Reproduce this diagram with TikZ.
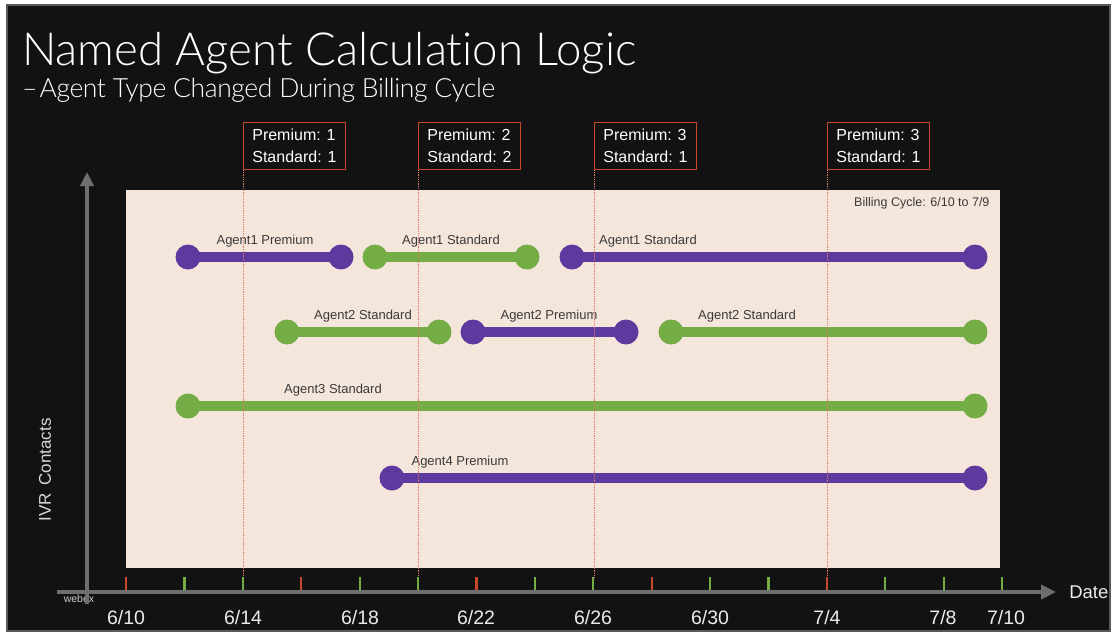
\documentclass[tikz,border=0pt]{standalone}
\usepackage{fontspec}
\setmainfont{Liberation Sans}
\IfFontExistsTF{Lato Light}{%
  \newfontfamily\titlefont[Ligatures=NoCommon]{Lato Light}%
  \newfontfamily\subtitlefont[Ligatures=NoCommon, LetterSpace=-1.5]{Lato Light}}{%
  \newfontfamily\titlefont{Lato}%
  \newfontfamily\subtitlefont[LetterSpace=-1.5]{Lato}}
\usetikzlibrary{arrows.meta,positioning}

\definecolor{slidebg}{HTML}{121212}
\definecolor{framegray}{HTML}{5A5A5A}
\definecolor{axisgray}{HTML}{6E6E6E}
\definecolor{chartbg}{HTML}{F5E6DC}
\definecolor{premium}{HTML}{5E3A9E}
\definecolor{standard}{HTML}{74AD46}
\definecolor{marker}{HTML}{C9482B}
\definecolor{labelgray}{HTML}{3A3A3A}

\tikzset{
  endpt/.style={circle, fill=#1, inner sep=0pt, minimum size=25pt},
  bar/.style={line width=9.5pt, draw=#1},
  agentlabel/.style={font=\fontsize{13}{15}\selectfont, text=labelgray, inner sep=1pt},
  countbox/.style={draw=marker, line width=0.9pt, text=white, align=left, anchor=north west,
    font=\fontsize{16}{22}\selectfont, inner xsep=8pt, inner ysep=4pt,
    minimum height=47pt, minimum width=102pt},
  markerline/.style={marker!85!red!70!white, line width=0.8pt, dash pattern=on 1pt off 0.8pt},
  daytick/.style={line width=2.2pt, #1},
  datelabel/.style={font=\fontsize{19.5}{22}\selectfont, text=white!92!black}
}

\begin{document}
\begin{tikzpicture}[x=1pt, y=-1pt]
    \useasboundingbox (0,0) rectangle (1113,635);
    % Slide background
    \fill[white] (0,0) rectangle (1113,635);
    \draw[framegray, line width=2pt, fill=slidebg] (7,5) rectangle (1110,631);

    % Title
    \node[anchor=base west, inner sep=0pt, text=white, font=\titlefont\fontsize{45.6}{50}\selectfont]
        (title) at (22,65) {Named Agent Calculation Logic};
    \node[anchor=base west, inner sep=0pt, text=white, font=\subtitlefont\fontsize{26.5}{30}\selectfont]
        (subtitle) at (22,97) {–\kern2pt Agent Type Changed During Billing Cycle};

    % Chart area
    \fill[chartbg] (126,190) rectangle (1000,568);
    \node[anchor=east, text=labelgray, font=\fontsize{12.5}{14}\selectfont] (cycle) at (993,203)
        {Billing Cycle: 6/10 to 7/9};
    \coordinate (chartfoot) at (0,578);

    % Count boxes
    \foreach \i/\bx/\np/\ns in {1/243/1/1, 2/418/2/2, 3/594/3/1, 4/827/3/1}
        \node[countbox] (box\i) at (\bx,122) {Premium: \np\\Standard: \ns};

    % Agent segments
    \foreach \n/\xa/\xb/\y/\c/\lx/\lab in {
        a1p/188/341/257/premium/265/{Agent1 Premium},
        a1s/375/527/257/standard/451/{Agent1 Standard},
        a1t/572/975/257/premium/648/{Agent1 Standard},
        a2s/287/439/332/standard/363/{Agent2 Standard},
        a2p/473/626/332/premium/549/{Agent2 Premium},
        a2t/671/975/332/standard/747/{Agent2 Standard},
        a3s/188/975/406/standard/333/{Agent3 Standard},
        a4p/392/975/478/premium/460/{Agent4 Premium}} {
        \node[endpt=\c] (\n-a) at (\xa,\y) {};
        \node[endpt=\c] (\n-b) at (\xb,\y) {};
        \draw[bar=\c] (\n-a.center) -- (\n-b.center);
        \node[agentlabel] (\n-lab) at (\lx,\y-16) {\lab};
    }

    % Change markers
    \foreach \i in {1,...,4}
        \draw[markerline] (box\i.south west) -- (box\i.south west |- chartfoot);

    % Watermark
    \node[text=white!80!black, font=\fontsize{10.5}{12}\selectfont, inner sep=0pt] (logo) at (79,599) {webex};

    % Axes
    \draw[axisgray, line width=4pt, -{Triangle[length=15pt, width=14pt]}] (57,592) -- (1056,592)
        node[right=8pt, text=white!92!black, font=\fontsize{18.5}{22}\selectfont] (xlab) {Date};
    \draw[axisgray, line width=4pt, -{Triangle[length=14pt, width=13pt]}] (87,604) -- (87,172);
    \node[rotate=90, text=white!85!black, font=\fontsize{17}{20}\selectfont] (ylab) at (45,470)
        {IVR\hspace{0.45em}Contacts};

    % Tick marks (red every six days)
    \foreach \d in {0,3,6,9,12}
        \draw[daytick=marker] (126+\d*58.4,577) -- (126+\d*58.4,590);
    \foreach \d in {1,2,4,5,7,8,10,11,13,14,15}
        \draw[daytick=standard] (126+\d*58.4,577) -- (126+\d*58.4,590);

    % Date labels
    \foreach \x/\dt in {126/{6/10}, 243/{6/14}, 360/{6/18}, 476/{6/22}, 593/{6/26},
                        710/{6/30}, 827/{7/4}, 943/{7/8}, 1006/{7/10}}
        \node[datelabel] at (\x,618) {\dt};
\end{tikzpicture}
\end{document}
